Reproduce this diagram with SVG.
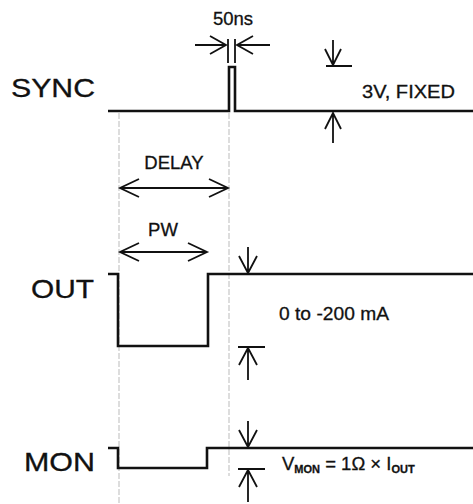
<svg xmlns="http://www.w3.org/2000/svg" width="473" height="504" viewBox="0 0 473 504">
<style>
.sig{fill:none;stroke:#111;stroke-width:2.6}
.ln{fill:none;stroke:#111;stroke-width:1.8}
.grid{fill:none;stroke:#bbb;stroke-width:1;stroke-dasharray:6 2}
.lbl{font-family:"Liberation Sans",Arial,sans-serif;font-size:25px;fill:#111;stroke:#111;stroke-width:0.3}
.sm{font-family:"Liberation Sans",Arial,sans-serif;font-size:18.5px;fill:#111;stroke:#111;stroke-width:0.3}
.sub{font-size:11px;font-weight:bold}
</style>
<rect width="473" height="504" fill="#fff"/>
<g id="gridlines">
<line class="grid" x1="119" y1="113" x2="119" y2="504"/>
<line class="grid" x1="229" y1="113" x2="229" y2="476"/>
</g>
<g id="sync">
<text class="lbl" x="11" y="97" textLength="84" lengthAdjust="spacingAndGlyphs">SYNC</text>
<path class="sig" d="M108,111 H229 V67 H235 V111 H473"/>
</g>
<g id="out">
<text class="lbl" x="31" y="298" textLength="63" lengthAdjust="spacingAndGlyphs">OUT</text>
<path class="sig" d="M108,274 H118 V346 H208 V274 H473"/>
</g>
<g id="mon">
<text class="lbl" x="24" y="471" textLength="71" lengthAdjust="spacingAndGlyphs">MON</text>
<path class="sig" d="M108,448 H118 V468 H207 V448 H473"/>
</g>
<g id="connectors">
<!-- 50ns -->
<line class="ln" x1="228" y1="39" x2="228" y2="63"/>
<line class="ln" x1="235" y1="39" x2="235" y2="63"/>
<path class="ln" d="M195,45 H226 M210,36 L226,45 L210,54"/>
<path class="ln" d="M270,45 H237 M253,36 L237,45 L253,54"/>
<!-- 3V -->
<path class="ln" d="M333,40 V65 M325,49 L333,65 L341,49 M326,66 H352"/>
<path class="ln" d="M333,143 V113 M325,129 L333,113 L341,129"/>
<!-- DELAY -->
<path class="ln" d="M120,188 H228 M139,179 L120,188 L139,197 M209,179 L228,188 L209,197"/>
<!-- PW -->
<path class="ln" d="M120,252 H207 M139,243 L120,252 L139,261 M188,243 L207,252 L188,261"/>
<!-- OUT amplitude -->
<path class="ln" d="M248,247 V273 M239,256 L248,273 L257,256"/>
<path class="ln" d="M248,380 V348 M239,365 L248,348 L257,365 M238,347 H265"/>
<!-- MON amplitude -->
<path class="ln" d="M248,421 V447 M239,430 L248,447 L257,430"/>
<path class="ln" d="M248,502 V470 M239,487 L248,470 L257,487 M238,469 H265"/>
</g>
<g id="labels">
<text class="sm" x="233" y="25" text-anchor="middle">50ns</text>
<text class="sm" x="362" y="98" textLength="93" lengthAdjust="spacingAndGlyphs">3V, FIXED</text>
<text class="sm" x="174" y="169" text-anchor="middle">DELAY</text>
<text class="sm" x="163" y="236" text-anchor="middle">PW</text>
<text class="sm" x="279" y="320" textLength="110" lengthAdjust="spacingAndGlyphs">0 to -200 mA</text>
<text class="sm" x="282" y="470">V<tspan class="sub" dy="3">MON</tspan><tspan dy="-3"> = 1Ω × I</tspan><tspan class="sub" dy="3">OUT</tspan></text>
</g>
</svg>
